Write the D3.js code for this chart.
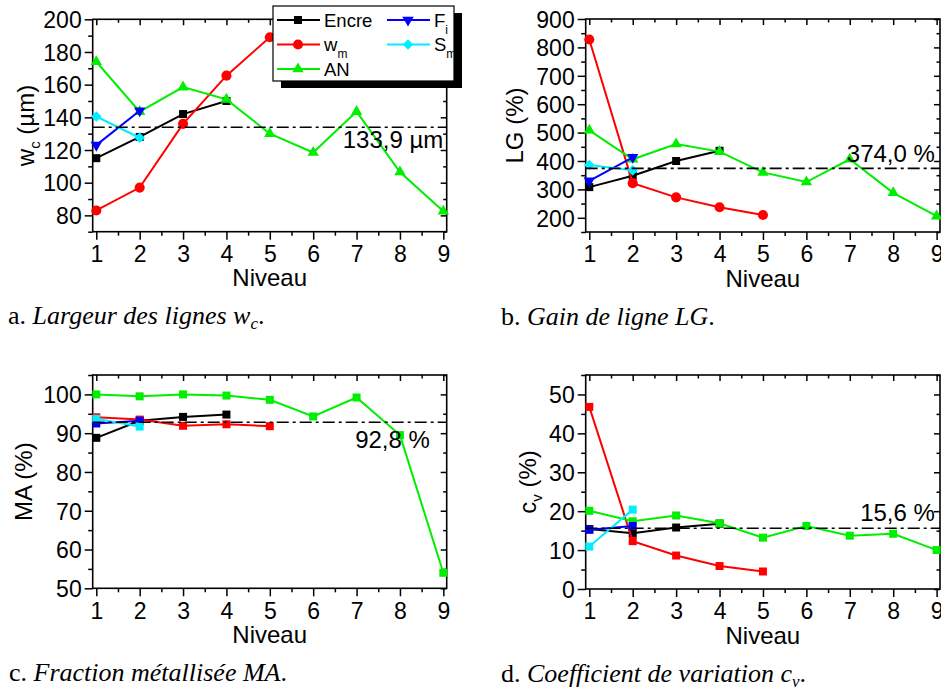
<!DOCTYPE html>
<html><head><meta charset="utf-8">
<script src="https://cdn.jsdelivr.net/npm/d3@7"></script>
<style>
body{margin:0;background:#fff}
svg{display:block}
text{font-family:"Liberation Sans",Arial,sans-serif;fill:#000}
.cap{font-family:"Liberation Serif","Times New Roman",serif}
</style>
</head><body>
<svg id="chart" width="941" height="691"></svg>
<script>
// ---------- DATA ----------
const niveaux = [1, 2, 3, 4, 5, 6, 7, 8, 9];
const seriesNames = ["Encre", "wm", "AN", "Fi", "Sm"];

// a. Largeur des lignes wc (µm)
const wcEncre = [115, 128, 142, 150];
const wcWm    = [83, 97, 136, 165.5, 189];
const wcAN    = [174, 143.5, 158.5, 151, 130, 118.5, 143.5, 106.5, 82.5];
const wcFi    = [123, 144];
const wcSm    = [140.5, 127.5];
const wcMean  = 133.9;

// b. Gain de ligne LG (%)
const lgEncre = [308, 348, 400, 436];
const lgWm    = [828, 322, 272, 237, 210];
const lgAN    = [508, 406, 460, 433, 360, 326, 406, 288, 206];
const lgFi    = [330, 413];
const lgSm    = [386, 367];
const lgMean  = 374.0;

// c. Fraction métallisée MA (%)
const maEncre = [88.8, 93.2, 94.2, 94.8];
const maWm    = [94.1, 93.5, 91.9, 92.3, 91.8];
const maAN    = [100, 99.5, 100, 99.7, 98.6, 94.3, 99.2, 89.5, 54.0];
const maFi    = [92.5, 93.2];
const maSm    = [93.7, 91.7];
const maMean  = 92.8;

// d. Coefficient de variation cv (%)
const cvEncre = [15.4, 14.3, 15.8, 16.8];
const cvWm    = [46.8, 12.3, 8.6, 5.9, 4.5];
const cvAN    = [20.1, 17.4, 18.9, 16.9, 13.2, 16.2, 13.7, 14.2, 10.0];
const cvFi    = [15.2, 16.2];
const cvSm    = [10.9, 20.4];
const cvMean  = 15.6;

const yTicksA = [80, 100, 120, 140, 160, 180, 200];
const yTicksB = [200, 300, 400, 500, 600, 700, 800, 900];
const yTicksC = [50, 60, 70, 80, 90, 100];
const yTicksD = [0, 10, 20, 30, 40, 50];

// ---------- STYLE ----------
const colors = {Encre:"#000000", wm:"#ff0000", AN:"#00ee00", Fi:"#0000ff", Sm:"#00eeff"};
const svg = d3.select("#chart");
const TICKFONT = "23px", TITLEFONT = "24px";

const sym = {
  square: d3.symbol().type(d3.symbolSquare).size(64),
  circle: d3.symbol().type(d3.symbolCircle).size(80),
  triangle: d3.symbol().type(d3.symbolTriangle).size(56),
  diamond: d3.symbol().type(d3.symbolSquare).size(56)
};
const symRot = {square:0, circle:0, triangle:0, tridown:180, diamond:45};
const markersAB = {Encre:"square", wm:"circle", AN:"triangle", Fi:"tridown", Sm:"diamond"};
const markersCD = {Encre:"square", wm:"square", AN:"square", Fi:"square", Sm:"square"};

function drawMarker(g, type, x, y, color){
  const t = type === "tridown" ? "triangle" : type;
  g.append("path").attr("d", sym[t]())
    .attr("transform", `translate(${x},${y}) rotate(${symRot[type]})`)
    .attr("fill", color).attr("stroke", "none");
}

const panels = [
  {left:92.7, right:446.7, top:19.3, bottom:231.7, yDomain:[70,200], yTicks:yTicksA, yMinorStep:10,
   data:{Encre:wcEncre, wm:wcWm, AN:wcAN, Fi:wcFi, Sm:wcSm}, mean:wcMean,
   meanText:"133,9 µm", meanX:9.0, meanDy:21, markers:markersAB,
   title:["w","c"," (µm)"], titleOff:-59, legend:true,
   caption:["a. ","Largeur des lignes w","c","."], capX:8},
  {left:585.7, right:940, top:19, bottom:232, yDomain:[150,900], yTicks:yTicksB, yMinorStep:50,
   data:{Encre:lgEncre, wm:lgWm, AN:lgAN, Fi:lgFi, Sm:lgSm}, mean:lgMean,
   meanText:"374,0 %", meanX:8.96, meanDy:-6, markers:markersAB,
   title:["LG (%)"], titleOff:-63,
   caption:["b. ","Gain de ligne LG","","."], capX:501},
  {left:92.7, right:446.7, top:375, bottom:588.3, yDomain:[50,105], yTicks:yTicksC, yMinorStep:5,
   data:{Encre:maEncre, wm:maWm, AN:maAN, Fi:maFi, Sm:maSm}, mean:maMean,
   meanText:"92,8 %", meanX:8.69, meanDy:26, markers:markersCD,
   title:["MA (%)"], titleOff:-61,
   caption:["c. ","Fraction métallisée MA","","."], capX:9},
  {left:585.7, right:940, top:375, bottom:589, yDomain:[0,55], yTicks:yTicksD, yMinorStep:5,
   data:{Encre:cvEncre, wm:cvWm, AN:cvAN, Fi:cvFi, Sm:cvSm}, mean:cvMean,
   meanText:"15,6 %", meanX:8.96, meanDy:-7, markers:markersCD,
   title:["c","v"," (%)"], titleOff:-50,
   caption:["d. ","Coefficient de variation c","v","."], capX:501}
];

const xMinor = d3.range(1.5, 9.01, 1);

panels.forEach(p => {
  const x = d3.scaleLinear().domain([0.917, 9.078]).range([p.left, p.right]);
  const y = d3.scaleLinear().domain(p.yDomain).range([p.bottom, p.top]);
  const g = svg.append("g");
  const yMinor = d3.range(p.yDomain[0], p.yDomain[1] + 0.001, p.yMinorStep)
    .filter(v => !p.yTicks.includes(v));

  function axis(gen, tr, vals, size, labels){
    const a = gen.tickValues(vals).tickSize(size).tickSizeOuter(0);
    if(!labels) a.tickFormat("");
    const ag = g.append("g").attr("transform", tr).call(a);
    ag.select(".domain").remove();
    ag.selectAll("line").attr("stroke", "#000").attr("stroke-width", 1.5);
    ag.selectAll("text").style("font-size", TICKFONT).attr("fill", "#000")
      .style("font-family", '"Liberation Sans",Arial,sans-serif');
    return ag;
  }
  // bottom
  const xb = axis(d3.axisBottom(x), `translate(0,${p.bottom})`, niveaux, 8, true);
  xb.selectAll("text").attr("y", 14).attr("dy", "0.71em");
  axis(d3.axisBottom(x), `translate(0,${p.bottom})`, xMinor, 4, false);
  // top (inward)
  axis(d3.axisTop(x), `translate(0,${p.top})`, niveaux, -6, false);
  axis(d3.axisTop(x), `translate(0,${p.top})`, xMinor, -3.5, false);
  // left
  const yl = axis(d3.axisLeft(y), `translate(${p.left},0)`, p.yTicks, 8, true);
  yl.selectAll("text").attr("x", -11).attr("dy", "0.36em");
  axis(d3.axisLeft(y), `translate(${p.left},0)`, yMinor, 4.5, false);
  // right (inward)
  axis(d3.axisRight(y), `translate(${p.right},0)`, p.yTicks, -6, false);
  axis(d3.axisRight(y), `translate(${p.right},0)`, yMinor, -3.5, false);

  // frame
  g.append("rect").attr("x", p.left).attr("y", p.top)
    .attr("width", p.right - p.left).attr("height", p.bottom - p.top)
    .attr("fill", "none").attr("stroke", "#000").attr("stroke-width", 1.6);

  // series
  const line = d3.line().x((d, i) => x(niveaux[i])).y(d => y(d));
  seriesNames.forEach(name => {
    const vals = p.data[name];
    g.append("path").attr("d", line(vals)).attr("fill", "none")
      .attr("stroke", colors[name]).attr("stroke-width", 2);
    vals.forEach((v, i) => drawMarker(g, p.markers[name], x(niveaux[i]), y(v), colors[name]));
  });

  // mean line
  g.append("line").attr("x1", p.left).attr("x2", p.right)
    .attr("y1", y(p.mean)).attr("y2", y(p.mean))
    .attr("stroke", "#000").attr("stroke-width", 1.6).attr("stroke-dasharray", "12,4,3,4");
  g.append("text").attr("x", x(p.meanX)).attr("y", y(p.mean) + p.meanDy)
    .attr("text-anchor", "end").style("font-size", TITLEFONT).text(p.meanText);

  // x title
  g.append("text").attr("x", (p.left + p.right) / 2).attr("y", p.bottom + 54.5)
    .attr("text-anchor", "middle").style("font-size", TITLEFONT).text("Niveau");

  // y title
  const cy = (p.top + p.bottom) / 2;
  const yt = g.append("text")
    .attr("transform", `translate(${p.left + p.titleOff},${cy}) rotate(-90)`)
    .attr("text-anchor", "middle").style("font-size", TITLEFONT);
  if (p.title.length === 1) yt.text(p.title[0]);
  else {
    yt.append("tspan").text(p.title[0]);
    yt.append("tspan").attr("dy", 6).style("font-size", "15px").text(p.title[1]);
    yt.append("tspan").attr("dy", -6).text(p.title[2]);
  }

  // caption
  const ct = g.append("text").attr("class", "cap")
    .attr("x", p.capX).attr("y", p.bottom + 92.6).style("font-size", "26px");
  ct.append("tspan").text(p.caption[0]);
  ct.append("tspan").style("font-style", "italic").text(p.caption[1]);
  if (p.caption[2]) {
    ct.append("tspan").style("font-style", "italic").style("font-size", "17px").attr("dy", 5).text(p.caption[2]);
    ct.append("tspan").attr("dy", -5).text(p.caption[3]);
  } else ct.append("tspan").text(p.caption[3]);

  // legend
  if (p.legend) {
    const L = {x:273, y:6, w:181, h:75};
    const lg = svg.append("g");
    lg.append("rect").attr("x", L.x + 8).attr("y", L.y + 7).attr("width", L.w).attr("height", L.h).attr("fill", "#000");
    lg.append("rect").attr("x", L.x).attr("y", L.y).attr("width", L.w).attr("height", L.h)
      .attr("fill", "#fff").attr("stroke", "#000").attr("stroke-width", 1.2);
    const entries = [
      {name:"Encre", col:0, row:0, label:["Encre"]},
      {name:"wm", col:0, row:1, label:["w","m"]},
      {name:"AN", col:0, row:2, label:["AN"]},
      {name:"Fi", col:1, row:0, label:["F","i"]},
      {name:"Sm", col:1, row:1, label:["S","m"]}
    ];
    entries.forEach(e => {
      const x0 = e.col === 0 ? 277 : 387;
      const yy = 20 + e.row * 24.5;
      lg.append("line").attr("x1", x0).attr("x2", x0 + 43).attr("y1", yy).attr("y2", yy)
        .attr("stroke", colors[e.name]).attr("stroke-width", 2);
      drawMarker(lg, markersAB[e.name], x0 + 21, yy, colors[e.name]);
      const t = lg.append("text").attr("x", x0 + 47).attr("y", yy + 6.5).style("font-size", "18.5px");
      t.append("tspan").text(e.label[0]);
      if (e.label[1]) t.append("tspan").attr("dy", 7).style("font-size", "12px").text(e.label[1]);
    });
  }
});
</script>
</body></html>
